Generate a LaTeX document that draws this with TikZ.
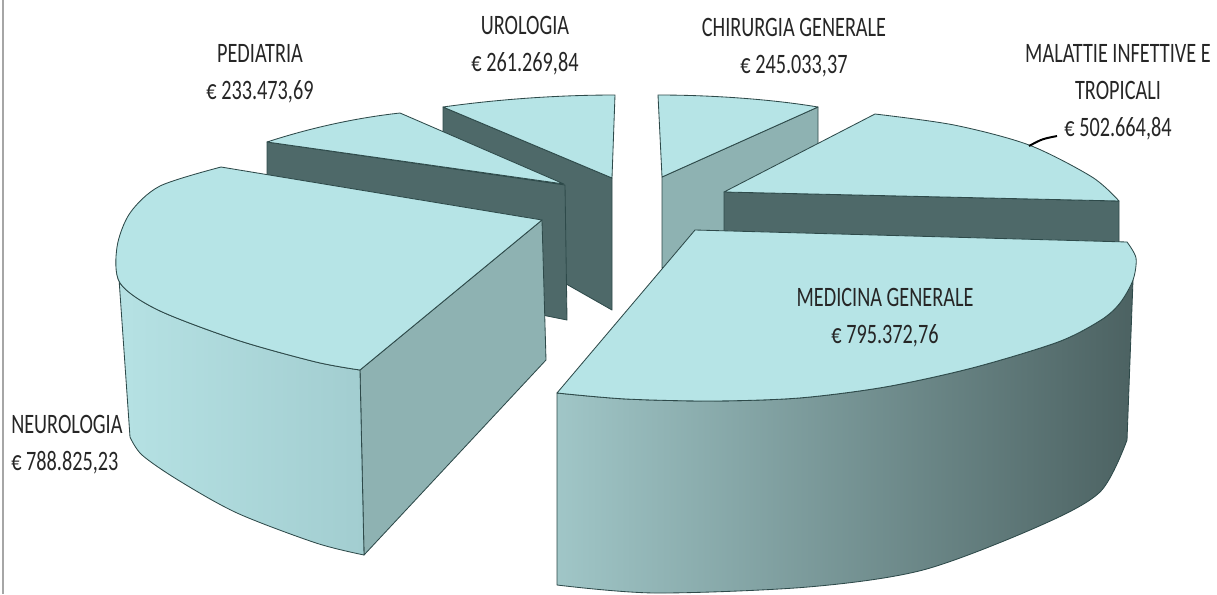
\documentclass[tikz,border=0pt]{standalone}
\usepackage{fontspec}
\setmainfont{Carlito}[FakeStretch=0.72]
\definecolor{topc}{HTML}{B6E4E6}
\definecolor{darkc}{HTML}{4E6969}
\definecolor{midc}{HTML}{8EB2B2}
\definecolor{edgec}{HTML}{2E4A4A}
\definecolor{txtc}{HTML}{262626}
\definecolor{framec}{HTML}{A6A6A6}
\definecolor{neuL}{HTML}{B6E2E4}
\definecolor{neuR}{HTML}{A2CDD0}
\definecolor{medL}{HTML}{A0C6C7}
\definecolor{medM}{HTML}{7A9B9C}
\definecolor{medR}{HTML}{4C6262}
\begin{document}
\begin{tikzpicture}[x=0.025cm,y=-0.025cm,
  face/.style={draw=edgec,line width=0.6pt,line join=round},
  topface/.style={face,fill=topc},
  darkface/.style={face,fill=darkc},
  midface/.style={face,fill=midc},
  lbl/.style={font=\fontsize{20}{26.3}\selectfont,text=txtc,align=center,inner sep=0pt}]
\useasboundingbox (0,0) rectangle (1217,594);
\draw[framec,line width=1.4pt] (3,0) -- (3,594);
\draw[darkface] (443,107) -- (612,178) -- (612,310) -- (443,214) -- cycle;
\draw[topface] (443,107) .. controls (500,99) and (560,95) .. (615,95) -- (612,178) -- cycle;
\draw[midface] (818,107) -- (662,177) -- (662,268) -- (818,200) -- cycle;
\draw[topface] (658,95) .. controls (710,95) and (770,99) .. (818,107) -- (662,177) -- cycle;
\draw[darkface] (267,142) -- (565,185) -- (567,320) -- (267,260) -- cycle;
\draw[topface] (267,142) .. controls (310,128) and (355,118) .. (400,113) -- (564,184) -- cycle;
\draw[darkface] (724,192) -- (1119,201) -- (1119,255) -- (724,255) -- cycle;
\draw[topface] (724,192) -- (875,114) -- plot[smooth] coordinates {(875,114) (954,125) (1029,145) (1092,177) (1119,201)} -- cycle;
\draw[midface] (360,370) -- (542,220) -- (546,360) -- (364,555) -- cycle;
\draw[face,left color=neuL,right color=neuR]
  (117,250) -- plot[smooth] coordinates {(117,250) (120,283) (158,310) (237,340) (316,362) (360,370)}
  -- (364,555) -- plot[smooth] coordinates {(364,555) (316,543) (237,513) (178,480) (142,455) (130,437)} -- cycle;
\draw[topface] (542,220) -- (221,167) -- plot[smooth] coordinates {(221,167) (160,186) (130,213) (117,247) (120,283) (158,310) (237,340) (316,362) (360,370)} -- cycle;
\draw[face,left color=medL,middle color=medM,right color=medR]
  (557,393) -- (557,585) -- plot[smooth] coordinates {(557,585) (655,593) (808,587) (923,570) (1037,527) (1100,492) (1127,440)}
  -- (1133,280) -- plot[smooth] coordinates {(1133,280) (1120,303) (1101,320) (1058,342) (972,368) (885,387) (799,398) (713,401) (626,399) (557,393)} -- cycle;
\draw[topface] (557,393) -- (695,230) -- (1127,242) -- plot[smooth] coordinates {(1127,242) (1136,258) (1133,280) (1120,303) (1101,320) (1058,342) (972,368) (885,387) (799,398) (713,401) (626,399) (557,393)} -- cycle;
\node[lbl] (pedLbl) at (260,74) {PEDIATRIA\\€ 233.473,69};
\node[lbl] (uroLbl) at (525,46) {UROLOGIA\\€ 261.269,84};
\node[lbl] (chiLbl) at (794,48) {CHIRURGIA GENERALE\\€ 245.033,37};
\node[lbl] (malLbl) at (1118,92) {MALATTIE INFETTIVE E\\TROPICALI\\€ 502.664,84};
\node[lbl] (medLbl) at (885,318) {MEDICINA GENERALE\\€ 795.372,76};
\node[lbl,align=left,anchor=west] (neuLbl) at (11,445) {NEUROLOGIA\\€ 788.825,23};
\coordinate (malArc) at (1029,146);
\coordinate (malEnd) at (1057,136);
\draw[black,line width=1.4pt] (malArc) .. controls (1042,139) .. (malEnd);
\end{tikzpicture}
\end{document}
